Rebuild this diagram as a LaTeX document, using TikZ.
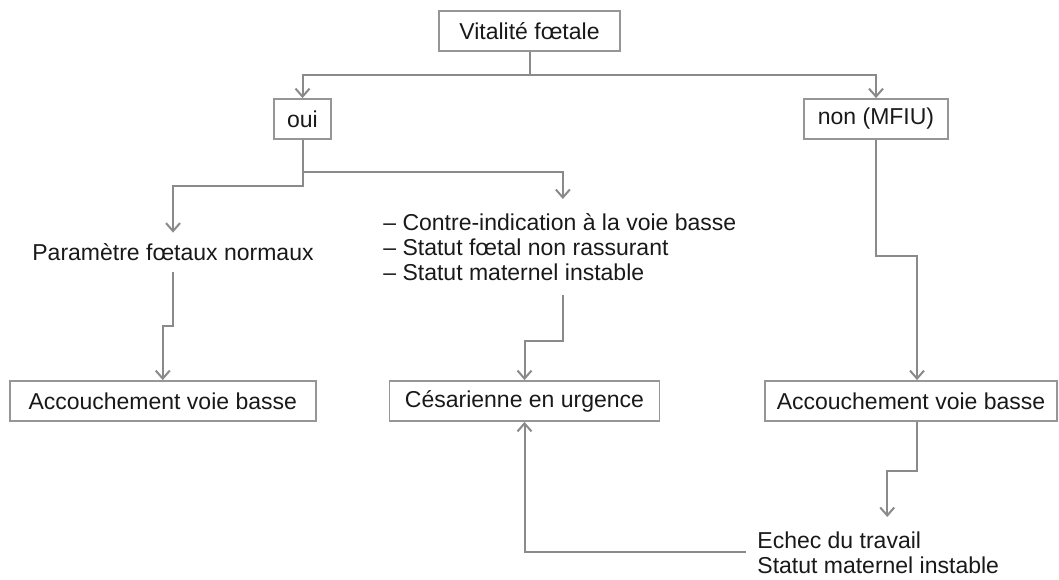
\documentclass[tikz,border=0pt]{standalone}
\usepackage{fontspec}
\setmainfont{Liberation Sans}
\usetikzlibrary{arrows.meta}
\definecolor{linegray}{RGB}{138,138,138}
\definecolor{boxgray}{RGB}{150,150,150}
\definecolor{inkblack}{RGB}{25,25,25}
\tikzset{box/.style = {draw=boxgray, line width=0.9pt, minimum height=20pt, inner xsep=0pt, text=inkblack}}
\tikzset{txt/.style = {inner xsep=0pt, inner ysep=5pt, text height=8.5pt, text depth=1pt, text=inkblack}}
\tikzset{note/.style = {align=left, inner ysep=7pt, text=inkblack}}
\tikzset{arr/.style = {draw=linegray, line width=1pt, -{Straight Barb[length=4pt,width=7pt]}}}
\tikzset{every picture/.style={
    x=0.5pt, y=-0.5pt,
    every node/.style={font=\fontsize{11.5}{12.5}\selectfont},
}}

\begin{document}
\begin{tikzpicture}
  \useasboundingbox (0,0) rectangle (1059,579);
  \node[box, minimum width=90.5pt] (vit) at (529.5, 31) {Vitalité fœtale};
  \node[box, minimum width=28.5pt] (oui) at (302.5, 119) {oui};
  \node[box, minimum width=72pt] (non) at (876, 119) {non (MFIU)};
  \node[txt, anchor=base] (param) at (173, 260) {Paramètre fœtaux normaux};
  \node[note, inner xsep=0pt, anchor=north west] (contre) at (383, 199)
    {– Contre-indication à la voie basse\\– Statut fœtal non rassurant\\– Statut maternel instable};
  \node[box, minimum width=153pt] (acc1) at (162.75, 401) {Accouchement voie basse};
  \node[box, minimum width=135pt] (ces) at (524.5, 401) {Césarienne en urgence};
  \node[box, minimum width=146pt] (acc2) at (911, 401) {Accouchement voie basse};
  \node[note, inner xsep=5.5pt, anchor=north west] (ech) at (746, 517)
    {Echec du travail\\Statut maternel instable};

  \draw[arr] (vit.south) -- ++(0,23) -| (oui.north);
  \draw[arr] (vit.south) -- ++(0,23) -| (non.north);
  \draw[arr] (oui.south) -- ++(0,46) -| (param.north);
  \draw[arr] (oui.south) -- ++(0,32) -| ([xshift=1.5pt]contre.north);
  \draw[arr] (param.south) -- ++(0,54) -| (acc1.north);
  \draw[arr] ([xshift=1.5pt]contre.south) -- ++(0,46) -| (ces.north);
  \draw[arr] (non.south) -- ++(0,116) -| ([xshift=3pt]acc2.north);
  \draw[arr] ([xshift=3pt]acc2.south) -- ++(0,49) -| ([xshift=4.5pt]ech.north);
  \draw[arr] (ech.west) -| (ces.south);
\end{tikzpicture}
\end{document}
